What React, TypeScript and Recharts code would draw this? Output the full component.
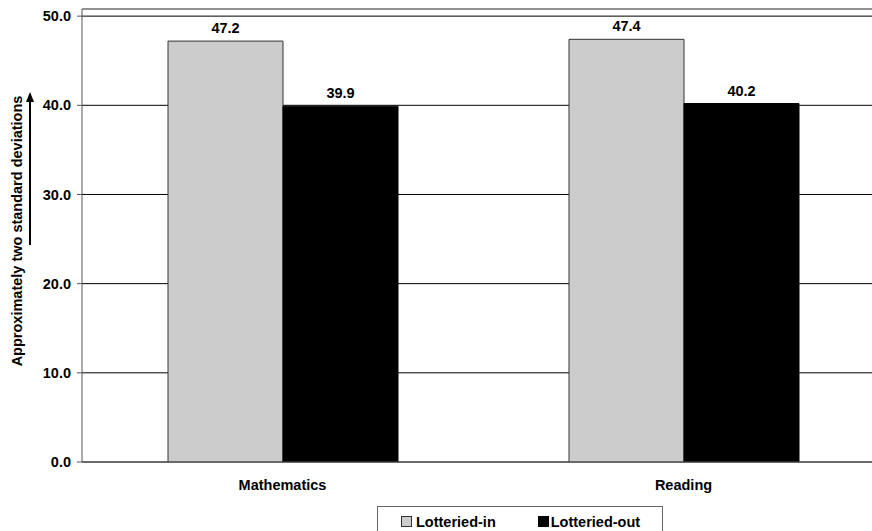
import React from 'react';
import { BarChart, Bar, XAxis, YAxis, CartesianGrid, Legend, LabelList, ReferenceLine } from 'recharts';

const categories = ['Mathematics', 'Reading'];
const lotteriedIn = [47.2, 47.4];
const lotteriedOut = [39.9, 40.2];
const yTicks = [0, 10, 20, 30, 40, 50];
const Y_MAX = 50.8;

const data = categories.map((name, i) => ({
  name,
  inVal: lotteriedIn[i],
  outVal: lotteriedOut[i],
}));

const FONT = '"Liberation Sans", Arial, sans-serif';

const YLabel = (props: any) => {
  const vb = props.viewBox || {};
  const top = vb.y - 1;
  const cy = top + 223;
  return (
    <g>
      <text
        x={9}
        y={cy}
        transform={`rotate(-90, 9, ${cy})`}
        textAnchor="middle"
        dominantBaseline="central"
        fontFamily={FONT}
        fontWeight="bold"
        fontSize={14.5}
        fill="#000"
      >
        Approximately two standard deviations
      </text>
      <line x1={22} x2={22} y1={top + 237} y2={top + 92} stroke="#000" strokeWidth={2} />
      <polygon points={`22,${top + 84} 18,${top + 94} 26,${top + 94}`} fill="#000" />
    </g>
  );
};

const LegendBox = () => (
  <div
    style={{
      width: 286,
      height: 30,
      border: '1px solid #666',
      borderBottom: 'none',
      display: 'flex',
      alignItems: 'center',
      fontFamily: FONT,
      fontWeight: 'bold',
      fontSize: 14.5,
      color: '#000',
      boxSizing: 'border-box',
    }}
  >
    <span style={{ display: 'inline-block', width: 9, height: 9, background: '#cccccc', border: '1px solid #333', marginLeft: 23, marginRight: 4 }} />
    <span>Lotteried-in</span>
    <span style={{ display: 'inline-block', width: 9, height: 9, background: '#000', border: '1px solid #000', marginLeft: 42, marginRight: 2 }} />
    <span>Lotteried-out</span>
  </div>
);

const tickStyle = { fill: '#000', fontSize: 14.5, fontWeight: 'bold', fontFamily: FONT };

// empty label for the boundary tick axis, keeps the tick mark itself
const NoLabel = () => <text />;

export default function App() {
  return (
    <div style={{ width: 864, height: 523, overflow: 'hidden', position: 'relative' }}>
      <style>{'body { margin: 8px 0 0 8px; overflow: hidden; }'}</style>
      <BarChart
        width={864}
        height={523}
        data={data}
        margin={{ top: 1, right: -12, bottom: 0, left: 0 }}
        barCategoryGap={86}
        barGap={0}
      >
        <CartesianGrid xAxisId="b" horizontal={true} vertical={false} stroke="#000" strokeWidth={1} />
        <YAxis
          type="number"
          domain={[0, Y_MAX]}
          ticks={yTicks}
          width={74}
          tickFormatter={(v: number) => v.toFixed(1)}
          tick={tickStyle}
          tickSize={5}
          tickMargin={6}
          stroke="#555"
          allowDataOverflow
          label={<YLabel />}
        />
        <XAxis
          xAxisId="a"
          type="number"
          domain={[0, 2]}
          ticks={[1]}
          height={6}
          tickSize={6}
          tick={<NoLabel />}
          tickLine={{ stroke: '#000', strokeWidth: 1.5 }}
          stroke="#555"
        />
        <XAxis
          xAxisId="b"
          dataKey="name"
          height={33}
          axisLine={false}
          tickLine={false}
          tick={tickStyle}
          tickMargin={0}
          dy={6}
        />
        <ReferenceLine xAxisId="b" y={Y_MAX} stroke="#999" strokeWidth={1.5} />
        <Legend
          content={<LegendBox />}
          wrapperStyle={{ top: 498, left: 369, bottom: 'auto', width: 286, height: 30 }}
        />
        <Bar xAxisId="b" dataKey="inVal" name="Lotteried-in" fill="#cccccc" stroke="#333" strokeWidth={1} isAnimationActive={false}>
          <LabelList
            dataKey="inVal"
            position="top"
            offset={8}
            formatter={(v: any) => Number(v).toFixed(1)}
            style={{ fill: '#000', fontSize: 14.5, fontWeight: 'bold', fontFamily: FONT }}
          />
        </Bar>
        <Bar xAxisId="b" dataKey="outVal" name="Lotteried-out" fill="#000" stroke="#000" isAnimationActive={false}>
          <LabelList
            dataKey="outVal"
            position="top"
            offset={8}
            formatter={(v: any) => Number(v).toFixed(1)}
            style={{ fill: '#000', fontSize: 14.5, fontWeight: 'bold', fontFamily: FONT }}
          />
        </Bar>
      </BarChart>
    </div>
  );
}
